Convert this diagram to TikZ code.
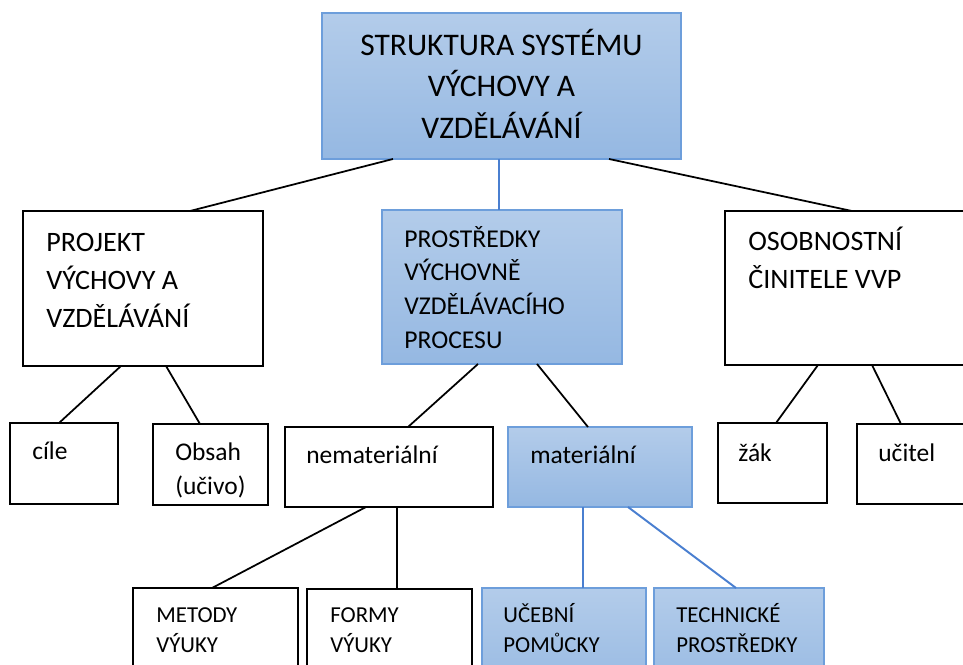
\documentclass[tikz,border=0pt]{standalone}
\usepackage{fontspec}
\setmainfont{Carlito}
\usetikzlibrary{calc,positioning}
\definecolor{boxtop}{HTML}{B3CCEA}
\definecolor{boxbot}{HTML}{95B8E2}
\definecolor{boxedge}{HTML}{6D9EDB}
\definecolor{linkblue}{HTML}{4A7FD0}

\begin{document}
\begin{tikzpicture}[x=0.02cm, y=-0.02cm,
  box/.style={draw=black, line width=1pt, fill=white, anchor=north west, inner sep=0pt, outer sep=0pt},
  bluebox/.style={box, draw=boxedge, line width=1.1pt, top color=boxtop, bottom color=boxbot},
  txt/.style={anchor=base west, inner sep=0pt, align=left},
  link/.style={draw=black, line width=1pt},
  bluelink/.style={draw=linkblue, line width=1.1pt}]
\useasboundingbox (0,0) rectangle (963,664);
\clip (0,0) rectangle (963,664);
% Top box (text placed by its last baseline)
\node[bluebox, minimum width=7.18cm, minimum height=2.92cm] (top) at (322,13) {};
\node[anchor=base, inner sep=0pt, align=center, font=\fontsize{17.9}{23.5}\selectfont] (topT) at (501.5,138) {STRUKTURA SYSTÉMU\\VÝCHOVY A\\VZDĚLÁVÁNÍ};
% Middle row
\node[box, minimum width=4.80cm, minimum height=3.10cm] (proj) at (23,211) {};
\node[txt, font=\fontsize{16}{21.5}\selectfont] (projT) at (46,327) {PROJEKT\\VÝCHOVY A\\VZDĚLÁVÁNÍ};
\node[bluebox, minimum width=4.80cm, minimum height=3.08cm] (pros) at (382,210) {};
\node[txt, font=\fontsize{14.6}{19.1}\selectfont] (prosT) at (404,348) {PROSTŘEDKY\\VÝCHOVNĚ\\VZDĚLÁVACÍHO\\PROCESU};
\node[box, minimum width=5.00cm, minimum height=3.08cm] (osob) at (725,211) {};
\node[txt, font=\fontsize{16}{21.5}\selectfont] (osobT) at (748,288) {OSOBNOSTNÍ\\ČINITELE VVP};
% Lower row
\node[box, minimum width=2.16cm, minimum height=1.62cm] (cile) at (10,423) {};
\node[txt, font=\fontsize{14.5}{19.3}\selectfont] (cileT) at (32,459) {cíle};
\node[box, minimum width=2.30cm, minimum height=1.62cm] (obsah) at (153,424) {};
\node[txt, font=\fontsize{14.5}{19.3}\selectfont] (obsahT) at (175,494) {Obsah\\(učivo)};
\node[box, minimum width=4.16cm, minimum height=1.60cm] (nemat) at (285,427) {};
\node[txt, font=\fontsize{14.5}{19.3}\selectfont] (nematT) at (306,463) {nemateriální};
\node[bluebox, minimum width=3.68cm, minimum height=1.60cm] (mat) at (508,427) {};
\node[txt, font=\fontsize{14.5}{19.3}\selectfont] (matT) at (530,463) {materiální};
\node[box, minimum width=2.18cm, minimum height=1.60cm] (zak) at (718,423) {};
\node[txt, font=\fontsize{14.5}{19.3}\selectfont] (zakT) at (738,461) {žák};
\node[box, minimum width=2.36cm, minimum height=1.60cm] (ucitel) at (857,424) {};
\node[txt, font=\fontsize{14.5}{19.3}\selectfont] (ucitelT) at (878,461) {učitel};
% Bottom row
\node[box, minimum width=3.30cm, minimum height=2.24cm] (metody) at (133,588) {};
\node[txt, font=\fontsize{13}{17}\selectfont] (metodyT) at (156,652) {METODY\\VÝUKY};
\node[box, minimum width=3.30cm, minimum height=2.22cm] (formy) at (307,589) {};
\node[txt, font=\fontsize{13}{17}\selectfont] (formyT) at (330,652) {FORMY\\VÝUKY};
\node[bluebox, minimum width=3.28cm, minimum height=2.24cm] (ucebni) at (482,588) {};
\node[txt, font=\fontsize{13}{17}\selectfont] (ucebniT) at (503,652) {UČEBNÍ\\POMŮCKY};
\node[bluebox, minimum width=3.40cm, minimum height=2.24cm] (tech) at (654,588) {};
\node[txt, font=\fontsize{13}{17}\selectfont] (techT) at (676,652) {TECHNICKÉ\\PROSTŘEDKY};
% Connectors
\draw[link] ($(top.south west)+(71,0)$) -- ($(proj.north west)+(167,0)$);
\draw[bluelink] ($(top.south west)+(177,0)$) -- ($(pros.north west)+(117,0)$);
\draw[link] ($(top.south west)+(287,0)$) -- ($(osob.north west)+(127,0)$);
\draw[link] ($(proj.south west)+(98,0)$) -- ($(cile.north west)+(49,0)$);
\draw[link] ($(proj.south west)+(143,0)$) -- ($(obsah.north west)+(47,0)$);
\draw[link] ($(pros.south west)+(96,0)$) -- ($(nemat.north west)+(123,0)$);
\draw[link] ($(pros.south west)+(155,0)$) -- ($(mat.north west)+(80,0)$);
\draw[link] ($(osob.south west)+(93,0)$) -- ($(zak.north west)+(58,0)$);
\draw[link] ($(osob.south west)+(147,0)$) -- ($(ucitel.north west)+(44,0)$);
\draw[link] ($(nemat.south west)+(81,0)$) -- ($(metody.north west)+(79,0)$);
\draw[link] ($(nemat.south west)+(112,0)$) -- ($(formy.north west)+(90,0)$);
\draw[bluelink] ($(mat.south west)+(75,0)$) -- ($(ucebni.north west)+(101,0)$);
\draw[bluelink] ($(mat.south west)+(120,0)$) -- ($(tech.north west)+(82,0)$);
\end{tikzpicture}
\end{document}
